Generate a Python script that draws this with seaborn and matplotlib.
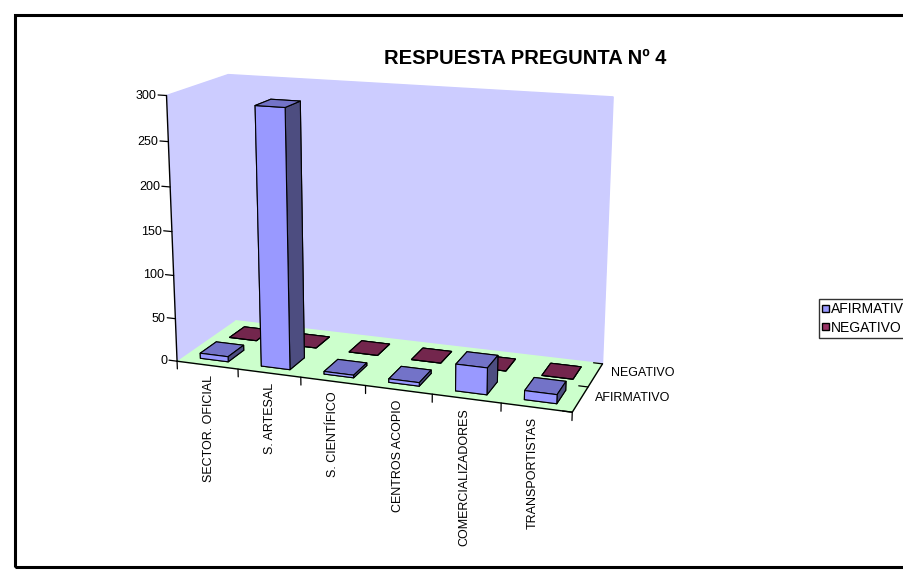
import matplotlib
matplotlib.use("Agg")
import matplotlib.pyplot as plt
import matplotlib.transforms as mtrans
import seaborn as sns
import numpy as np
from matplotlib.patches import Rectangle, Patch

categories = ["SECTOR. OFICIAL", "S. ARTESAL", "S. CIENTÍFICO", "CENTROS ACOPIO",
              "COMERCIALIZADORES", "TRANSPORTISTAS"]
series = ["AFIRMATIVO", "NEGATIVO"]
afirmativo = [6, 292, 3, 4, 30, 10]
negativo = [0, 0, 0, 0, 0, 0]
z_ticks = [0, 50, 100, 150, 200, 250, 300]
title = "RESPUESTA PREGUNTA Nº 4"

sns.set_theme(style="ticks", rc={"text.color": "black", "xtick.color": "black",
                                 "ytick.color": "black", "axes.labelcolor": "black"})
plt.rcParams['font.family'] = ['Liberation Sans', 'DejaVu Sans']
palette = sns.color_palette(["#9999FF", "#993366"])
# per-face shades: bottom, top, front, back, left, right
face_shades = [
    ["#9999FF", "#7373C8", "#9999FF", "#9999FF", "#9999FF", "#4D4D80"],
    ["#993366", "#73264D", "#993366", "#993366", "#993366", "#4D1A33"],
]

fig = plt.figure(figsize=(9.04, 5.71), dpi=100)
fig.patches.append(Rectangle((0.0166, 0.007), 1.2, 0.967, transform=fig.transFigure,
                             fill=False, edgecolor='black', linewidth=2.2, zorder=10))

ax = fig.add_axes([0.1462, 0.1424, 0.5538, 0.8768], projection='3d')
ax.view_init(elev=15.079, azim=-70.398)
ax.set_proj_type('persp', focal_length=0.5447)
ax.set_box_aspect((1.4988, 0.5036, 1.0), zoom=1)

x = np.arange(len(categories))
for si, vals in enumerate([afirmativo, negativo]):
    ax.bar3d(x - 0.23, np.full(len(x), si) - 0.27, np.zeros(len(x)),
             0.46, 0.54, np.array(vals, dtype=float),
             color=face_shades[si] * len(x), edgecolor='black', linewidth=0.8, shade=False)

ax.set_xlim(-0.5, len(categories) - 0.5)
ax.set_ylim(-0.5, len(series) - 0.5)
ax.set_zlim(0, 300)

ax.xaxis._get_tickdir = lambda position=None: 2
ax.zaxis._get_tickdir = lambda position=None: 0
ax.zaxis.set_ticks_position('lower')

for axis, fac in ((ax.xaxis, 0.38), (ax.yaxis, 0.28), (ax.zaxis, 0.28)):
    axis.set_tick_params(pad=-8, labelsize=9, labelcolor='black')
    axis.pane.set_edgecolor("#808080")
    axis.line.set_color("black")
    axis.line.set_linewidth(1.0)
    axis._axinfo['grid']['linewidth'] = 0
    axis._axinfo['tick']['inward_factor'] = 0.0
    axis._axinfo['tick']['outward_factor'] = fac
    axis._axinfo['tick']['linewidth'] = {True: 0.9, False: 0.5}
ax.xaxis.set_pane_color("#CCCCFF")
ax.yaxis.set_pane_color("#CCCCFF")
ax.zaxis.set_pane_color("#CCFFCC")
ax.grid(False)


def offset_labels(axis, dx_px, dy_px, **kw):
    """Shift tick labels on screen (3D axes reset label transforms at draw time)."""
    off = mtrans.ScaledTranslation(dx_px / 100, dy_px / 100, fig.dpi_scale_trans)
    orig = axis.get_major_ticks

    def patched(numticks=None):
        ticks = orig(numticks)
        for t in ticks:
            t.label1.set_transform(ax.transData + off)
            t.label1.set(**kw)
        return ticks
    axis.get_major_ticks = patched


xb = np.arange(len(categories) + 1) - 0.5
ax.set_xticks(xb)
ax.set_xticklabels(categories + [""])
offset_labels(ax.xaxis, 32, -14, va='top', ha='center', rotation=90)

yb = np.arange(len(series) + 1) - 0.5
ax.set_yticks(yb)
ax.set_yticklabels(series + [""])
offset_labels(ax.yaxis, 22.5, 14, va='center', ha='left')

ax.set_zticks(z_ticks)
ax.set_zticklabels([str(t) for t in z_ticks])
offset_labels(ax.zaxis, -10, 0, va='center', ha='right')

fig.text(0.581, 0.898, title, ha='center', va='center', fontsize=14.5, fontweight='bold')

handles = [Patch(facecolor=palette[i], edgecolor='black', label=s) for i, s in enumerate(series)]
fig.legend(handles=handles, loc='upper left', bbox_to_anchor=(0.906, 0.4764),
           frameon=True, fancybox=False, edgecolor='black', fontsize=10,
           handlelength=0.45, handleheight=0.45, handletextpad=0.15, borderpad=0.25,
           labelspacing=0.3, borderaxespad=0)

fig.savefig("out.png", dpi=100)
